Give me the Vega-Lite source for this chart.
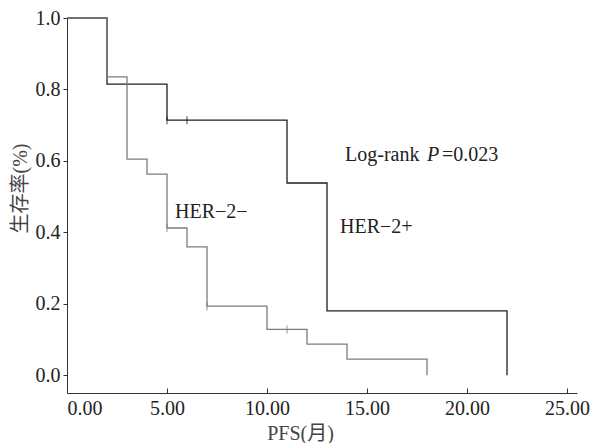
{
  "$schema": "https://vega.github.io/schema/vega-lite/v6.json",
  "width": 510,
  "height": 375,
  "autosize": {"type": "none"},
  "padding": {"left": 67, "top": 18, "right": 14, "bottom": 50},
  "background": "white",
  "config": {
    "view": {"stroke": null},
    "font": "Liberation Serif",
    "axis": {"grid": false, "domainColor": "#333", "tickColor": "#333", "labelColor": "#222", "titleColor": "#444", "labelFont": "Liberation Serif", "titleFont": "Liberation Serif, Noto Sans CJK SC", "labelFontSize": 20, "titleFontWeight": "normal", "titleFontSize": 20}
  },
  "datasets": {
    "curves": [
      {"group": "HER-2+", "t": 0, "s": 1.0},
      {"group": "HER-2+", "t": 2, "s": 0.815},
      {"group": "HER-2+", "t": 5, "s": 0.714},
      {"group": "HER-2+", "t": 11, "s": 0.538},
      {"group": "HER-2+", "t": 13, "s": 0.18},
      {"group": "HER-2+", "t": 22, "s": 0.0},
      {"group": "HER-2-", "t": 0, "s": 1.0},
      {"group": "HER-2-", "t": 2, "s": 0.835},
      {"group": "HER-2-", "t": 3, "s": 0.605},
      {"group": "HER-2-", "t": 4, "s": 0.563},
      {"group": "HER-2-", "t": 5, "s": 0.412},
      {"group": "HER-2-", "t": 6, "s": 0.359},
      {"group": "HER-2-", "t": 7, "s": 0.193},
      {"group": "HER-2-", "t": 10, "s": 0.128},
      {"group": "HER-2-", "t": 12, "s": 0.087},
      {"group": "HER-2-", "t": 14, "s": 0.045},
      {"group": "HER-2-", "t": 18, "s": 0.0}
    ],
    "censor": [
      {"group": "HER-2+", "t": 6, "s": 0.714},
      {"group": "HER-2+", "t": 5, "s": 0.714},
      {"group": "HER-2-", "t": 2, "s": 0.835},
      {"group": "HER-2-", "t": 5, "s": 0.412},
      {"group": "HER-2-", "t": 7, "s": 0.193},
      {"group": "HER-2-", "t": 11, "s": 0.128}
    ],
    "labels": [
      {"t": 13.9, "s": 0.616, "text": "Log-rank"},
      {"t": 18.75, "s": 0.616, "text": "=0.023"},
      {"t": 13.65, "s": 0.415, "text": "HER−2+"},
      {"t": 5.4, "s": 0.457, "text": "HER−2−"}
    ],
    "italic": [
      {"t": 18.0, "s": 0.616, "text": "P"}
    ]
  },
  "encoding": {
    "x": {"field": "t", "type": "quantitative", "scale": {"domain": [0, 25.5], "nice": false, "zero": false},
      "axis": {"title": "PFS(月)", "values": [0, 5, 10, 15, 20, 25], "format": ".2f", "tickSize": -5, "labelPadding": 10, "titleX": 233, "titleY": 40, "titleBaseline": "middle", "titleAnchor": null, "titleAlign": "center"}},
    "y": {"field": "s", "type": "quantitative", "scale": {"domain": [-0.05, 1.0], "nice": false, "zero": false},
      "axis": {"title": "生存率(%)", "values": [0, 0.2, 0.4, 0.6, 0.8, 1.0], "format": ".1f", "tickSize": 4, "labelPadding": 3, "titleX": -47, "titleY": 170, "titleBaseline": "middle", "titleAlign": "center", "titleAnchor": null}}
  },
  "layer": [
    {
      "data": {"name": "curves"},
      "mark": {"type": "line", "interpolate": "step-after", "strokeWidth": 1.3},
      "encoding": {
        "color": {"field": "group", "type": "nominal", "scale": {"domain": ["HER-2+", "HER-2-"], "range": ["#1e1e1e", "#7c7c7c"]}, "legend": null}
      }
    },
    {
      "data": {"name": "censor"},
      "mark": {"type": "tick", "orient": "vertical", "size": 8, "thickness": 1.2},
      "encoding": {
        "color": {"field": "group", "type": "nominal", "scale": {"domain": ["HER-2+", "HER-2-"], "range": ["#1e1e1e", "#7c7c7c"]}, "legend": null}
      }
    },
    {
      "data": {"name": "labels"},
      "mark": {"type": "text", "align": "left", "baseline": "middle", "fontSize": 20, "font": "Liberation Serif", "color": "#222"},
      "encoding": {"text": {"field": "text"}}
    },
    {
      "data": {"name": "italic"},
      "mark": {"type": "text", "align": "left", "baseline": "middle", "fontSize": 20, "font": "Liberation Serif", "fontStyle": "italic", "color": "#222"},
      "encoding": {"text": {"field": "text"}}
    }
  ]
}
